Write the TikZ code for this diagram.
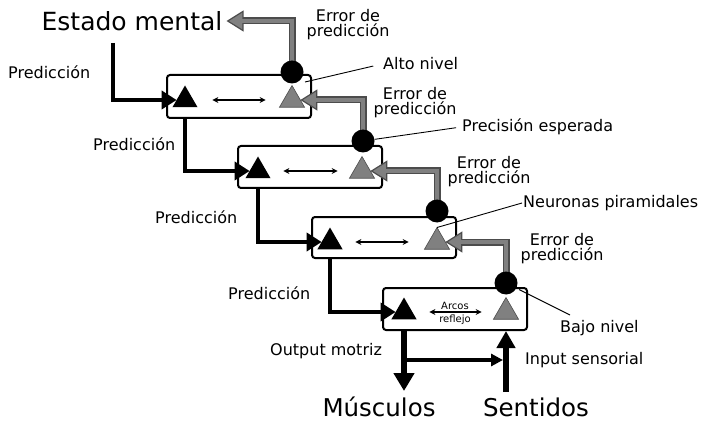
\documentclass[tikz,border=0pt]{standalone}
\usepackage{fontspec}
\setmainfont{DejaVu Sans}
\usetikzlibrary{arrows.meta,shapes.geometric,calc}
\begin{document}
\begin{tikzpicture}[x=1pt,y=-1pt,
  box/.style={draw, line width=2pt, rounded corners=3pt, minimum width=144pt, minimum height=42pt, inner sep=0pt},
  btri/.style={regular polygon, regular polygon sides=3, fill=black, minimum size=29pt, inner sep=0pt, outer sep=0pt},
  gtri/.style={btri, fill=gray, draw=black!70, line width=0.6pt},
  dot/.style={circle, fill=black, minimum size=23pt, inner sep=0pt},
  bk/.style={line width=4.5pt, -{Triangle[length=15pt,width=18pt]}},
  gpo/.style={line width=7pt, draw=black!70, -{Triangle[length=17pt,width=21pt,fill=gray,line width=1.2pt]}},
  gpi/.style={line width=4.5pt, draw=gray, shorten >=15pt},
  dbl/.style={line width=1.5pt, {Stealth[length=6pt,width=6pt]}-{Stealth[length=6pt,width=6pt]}},
  ptr/.style={line width=0.9pt},
  lbl/.style={font=\fontsize{16}{15}\selectfont, inner sep=1pt},
  big/.style={font=\fontsize{25}{28}\selectfont, inner sep=0pt},
]
\useasboundingbox (0,0) rectangle (701,422);
% boxes
\node[box, minimum height=43pt] (b1) at (239,96.5) {};
\node[box] (b2) at (310,167) {};
\node[box, minimum height=41pt] (b3) at (384,237.5) {};
\node[box] (b4) at (455,309) {};
% triangles
\node[btri] (bt1) at (185,100) {};
\node[gtri] (gt1) at (292,100) {};
\node[btri] (bt2) at (258,171) {};
\node[gtri] (gt2) at (362,171) {};
\node[btri] (bt3) at (330,242) {};
\node[gtri] (gt3) at (437,242) {};
\node[btri] (bt4) at (404,312) {};
\node[gtri] (gt4) at (506,312) {};
% double arrows
\draw[dbl, shorten <=19pt, shorten >=18pt] (bt1) -- (gt1);
\draw[dbl, shorten <=17pt, shorten >=16pt] (bt2) -- (gt2);
\draw[dbl, shorten <=17pt, shorten >=20pt] (bt3) -- (gt3);
\draw[dbl, shorten <=17pt, shorten >=16pt] (bt4) -- (gt4)
  node[midway, above=2pt, font=\fontsize{10}{11}\selectfont, inner sep=0pt] {Arcos}
  node[midway, below=2pt, font=\fontsize{10}{11}\selectfont, inner sep=0pt] {reflejo};
% big labels
\node[big] (est) at (132,21) {Estado mental};
\node[big, font=\fontsize{24.5}{28}\selectfont, anchor=base] (mus) at (379,416) {Músculos};
\node[big, font=\fontsize{24.5}{28}\selectfont, anchor=base] (sen) at (536,416) {Sentidos};
% circles (positions)
\coordinate (c1p) at (292,72);
\coordinate (c2p) at (363,141);
\coordinate (c3p) at (437,211);
\coordinate (c4p) at (506,283);
% gray pipes
\draw[gpo] (c1p) |- ([xshift=4pt]est.east);
\draw[gpi] (c1p) |- ([xshift=4pt]est.east);
\draw[gpo] (c2p) |- (gt1.east);
\draw[gpi] (c2p) |- (gt1.east);
\draw[gpo] (c3p) |- (gt2.east);
\draw[gpi] (c3p) |- (gt2.east);
\draw[gpo] (c4p) |- (gt3.east);
\draw[gpi] (c4p) |- (gt3.east);
\node[dot] (c1) at (c1p) {};
\node[dot] (c2) at (c2p) {};
\node[dot] (c3) at (c3p) {};
\node[dot] (c4) at (c4p) {};
% black prediction arrows
\coordinate (p0) at (113,43);
\draw[bk] (p0) |- (bt1);
\draw[bk] (bt1 |- b1.south) |- (bt2);
\draw[bk] (bt2 |- b2.south) |- (bt3);
\draw[bk] (bt3 |- b3.south) |- (bt4);
% motor / sensory
\coordinate (mout) at (404,391);
\coordinate (sin) at (506,392);
\coordinate (jn) at (404,360);
\draw[line width=6pt, -{Triangle[length=18pt,width=20pt]}] (bt4 |- b4.south) -- (mout);
\draw[line width=6pt, -{Triangle[length=17pt,width=18pt]}] (sin) -- (gt4 |- b4.south);
\draw[line width=3.5pt, -{Triangle[length=12pt,width=12pt]}, shorten >=3pt] (jn) -- (jn -| sin);
% text labels
\node[lbl, anchor=west] (pr0) at (7,72) {Predicción};
\node[lbl, anchor=west] (pr1) at (92,144) {Predicción};
\node[lbl, anchor=west] (pr2) at (154,217) {Predicción};
\node[lbl, anchor=west] (pr3) at (227,293) {Predicción};
\node[lbl, align=center] (e1) at (348,25) {Error de\\predicción};
\node[lbl, align=center] (e2) at (415,103) {Error de\\predicción};
\node[lbl, align=center] (e3) at (489,172) {Error de\\predicción};
\node[lbl, align=center] (e4) at (562,249) {Error de\\predicción};
\node[lbl, anchor=west] (alto) at (382,64) {Alto nivel};
\node[lbl, anchor=west] (prec) at (461,127) {Precisión esperada};
\node[lbl, anchor=west] (neur) at (522,203) {Neuronas piramidales};
\node[lbl, anchor=west] (bajo) at (559,328) {Bajo nivel};
\node[lbl, anchor=west] (outm) at (269,351) {Output motriz};
\node[lbl, anchor=west] (inps) at (524,360) {Input sensorial};
% pointer lines
\coordinate (pa) at (305,82);
\draw[ptr, shorten <=9pt] (alto.west) -- (pa);
\draw[ptr, shorten <=5pt] (prec.west) -- (c2);
\draw[ptr] (neur.west) -- (gt3.corner 1);
\coordinate (pb) at (570,315);
\draw[ptr, shorten <=3pt] (c4) -- (pb);
\end{tikzpicture}
\end{document}
